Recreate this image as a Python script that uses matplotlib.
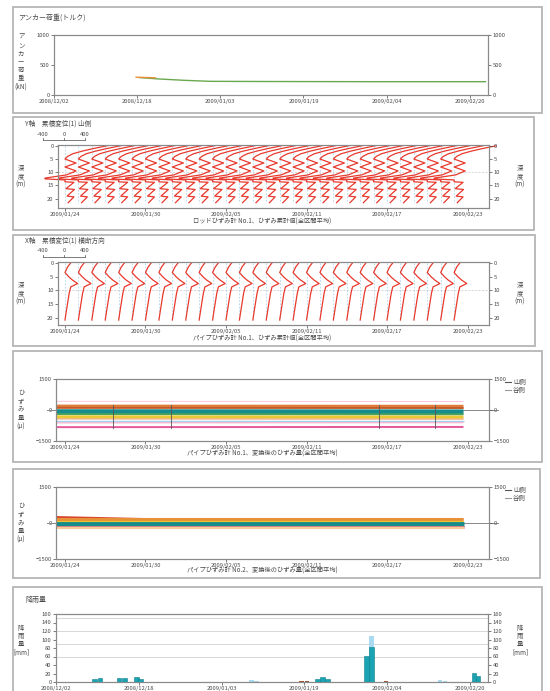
import matplotlib
matplotlib.use("Agg")
import matplotlib.pyplot as plt
from matplotlib.patches import Rectangle
from matplotlib.lines import Line2D

plt.rcParams['font.family'] = ['Noto Sans CJK JP', 'DejaVu Sans']

# ---------------------------------------------------------------- data
long_tick_days = [0, 16, 32, 48, 64, 80]
long_tick_labels = ["2008/12/02", "2008/12/18", "2009/01/03",
                    "2009/01/19", "2009/02/04", "2009/02/20"]
short_tick_days = [0, 6, 12, 18, 24, 30]
short_tick_labels = ["2009/01/24", "2009/01/30", "2009/02/05",
                     "2009/02/11", "2009/02/17", "2009/02/23"]

# anchor load (kN)
anchor_days = [16.5, 20, 25, 30, 40, 60, 83]
anchor_load = [290, 268, 245, 228, 225, 222, 222]
anchor_days_b = [15.8, 17.5, 19.5]
anchor_load_b = [296, 292, 286]

# inclinometer profiles: one per day
profile_days = list(range(30))
depth_a = [0, 1, 2, 3, 4, 5, 6.5, 8, 9.5, 11, 12.2, 12.5, 12.9,
           13.6, 13.8, 16.2, 16.5, 19.0, 19.3, 21.5]
disp_a = [800, 550, 330, 150, 50, 0, 210, 0, 210, 30, -380, -380, 0,
          0, 170, 20, 180, 40, 170, 60]
depth_b = [0, 1.5, 3.5, 5, 6.2, 7.5, 8.7, 11, 14, 17, 20.7]
disp_b = [110, 50, 0, 70, 140, 240, 110, 80, 55, 30, 0]

# pipe strain gauge No.1 (micro strain), level of each gauge line
strain1_start = [420, 160, 110, -80, -200, -340, -430, -520, -620, -830]
strain1_end = [410, 150, 100, -90, -210, -350, -440, -520, -610, -820]
strain1_break_days = [3.6, 7.9, 23.4, 27.6]

# pipe strain gauge No.2
strain2_start = [250, 130, 60, -20, -60, -150, -220]
strain2_mid = [165, 135, 60, -20, -60, -150, -220]
strain2_end = [150, 135, 60, -20, -60, -150, -220]

# daily rainfall (mm)
rain_days = [7.5, 8.5, 12.2, 13.2, 15.5, 16.3, 50.5, 51.5, 52.5, 60, 61, 80.8, 81.6]
rain_mm = [8, 10, 10, 9, 12, 6, 6, 12, 8, 62, 83, 22, 14]
rain_light_days = [37.8, 38.8, 61, 74.2, 75.2]
rain_light_mm = [4, 3, 108, 4, 3]
rain_small_days = [47.5, 48.5, 63.8, 70.6]
rain_small_mm = [2, 2, 1.5, 1]

# ---------------------------------------------------------------- figure
W, H = 550, 691
fig = plt.figure(figsize=(W / 100, H / 100), dpi=100)

TXT = '#4a4a4a'
SP = '#8a8a8a'
FS = 4.2
RED = '#e8392d'


def add_ax(x0, y0, x1, y1):
    return fig.add_axes([x0 / W, 1 - y1 / H, (x1 - x0) / W, (y1 - y0) / H])


def style(ax):
    for s in ax.spines.values():
        s.set_color(SP)
        s.set_linewidth(0.8)
    ax.tick_params(labelsize=FS, colors=TXT, length=2, width=0.5, pad=1.2)


def ftext(x, y, s, **kw):
    kw.setdefault('fontsize', 5)
    kw.setdefault('color', TXT)
    fig.text(x / W, 1 - y / H, s, **kw)


def vlabel(x, y, chars):
    ftext(x, y, "\n".join(chars), ha='center', va='center',
          fontsize=4.6, linespacing=1.05)


def right_twin(ax, ticks, labels=None):
    r = ax.twinx()
    r.set_ylim(ax.get_ylim())
    r.set_yticks(ticks)
    if labels is not None:
        r.set_yticklabels(labels)
    style(r)
    return r


# panel frames
frames = [(13, 7, 542, 113), (13, 117, 534, 230), (13, 235, 535, 346),
          (13, 351, 542, 462), (13, 469, 540, 578), (13, 587, 542, 700)]
for x0, y0, x1, y1 in frames:
    fig.add_artist(Rectangle((x0 / W, 1 - y1 / H), (x1 - x0) / W, (y1 - y0) / H,
                             transform=fig.transFigure, fill=False,
                             ec='#b5b5b5', lw=1.3))

# ---------------------------------------------------------------- panel 1
ax1 = add_ax(54, 35, 488, 95)
ax1.set_xlim(0, 83.5)
ax1.set_ylim(0, 1000)
ax1.set_yticks([0, 500, 1000])
ax1.set_xticks(long_tick_days)
ax1.set_xticklabels(long_tick_labels)
style(ax1)
ax1.plot(anchor_days, anchor_load, color='#6aa84f', lw=1.0)
ax1.plot(anchor_days_b, anchor_load_b, color='#e69138', lw=1.0)
right_twin(ax1, [0, 500, 1000])
ftext(18, 18, "アンカー荷重(トルク)", fontsize=5, va='center')
vlabel(21, 62, ["ア", "ン", "カ", "ー", "荷", "重", "(kN)"])

# ---------------------------------------------------------------- panels 2 and 3
MM2DAY = (42 / 800) / 13.4


def profile_panel(y0, y1, depth, disp, ymax, title, caption, cap_y):
    ax = add_ax(58, y0, 489, y1)
    ax.set_xlim(-0.52, 31.6)
    ax.set_ylim(ymax, -0.3)
    ax.set_yticks([0, 5, 10, 15, 20])
    ax.set_xticks(short_tick_days)
    ax.set_xticklabels(short_tick_labels)
    style(ax)
    ax.axhline(10, color='#c8c8c8', lw=0.5, ls=(0, (3, 2)))
    for d in profile_days:
        ax.plot([d, d], [0, depth[-1]], color='#8ec5e8', lw=0.6,
                ls=(0, (2, 2)), alpha=0.7)
        xs = [d + v * MM2DAY for v in disp]
        ax.plot(xs, depth, color=RED, lw=0.9, clip_on=False)
    right_twin(ax, [0, 5, 10, 15, 20])
    # scale bar
    ftext(25, y0 - 21, title, fontsize=4.8, va='center')
    ftext(43, y0 - 11, "-400", fontsize=4.2, ha='center', va='center')
    ftext(64, y0 - 11, "0", fontsize=4.2, ha='center', va='center')
    ftext(85, y0 - 11, "400", fontsize=4.2, ha='center', va='center')
    yb = 1 - (y0 - 5) / H
    fig.add_artist(Line2D([43 / W, 85 / W], [yb, yb], transform=fig.transFigure,
                          color='#666666', lw=0.6))
    for xb in (43, 64, 85):
        fig.add_artist(Line2D([xb / W, xb / W], [yb, yb + 2 / H],
                              transform=fig.transFigure, color='#666666', lw=0.6))
    vlabel(21, (y0 + y1) / 2, ["深", "度", "(m)"])
    vlabel(520, (y0 + y1) / 2, ["深", "度", "(m)"])
    ftext(262, cap_y, caption, fontsize=4.5, ha='center', va='center')
    return ax


profile_panel(145, 208, depth_a, disp_a, 23.5, "Y軸　累積変位(1) 山側",
              "ロッドひずみ計 No.1、ひずみ累計値(全区間平均)", 222)
profile_panel(262, 325, depth_b, disp_b, 22.5, "X軸　累積変位(1) 横断方向",
              "パイプひずみ計 No.1、ひずみ累計値(全区間平均)", 339)

# ---------------------------------------------------------------- panels 4 and 5
strain1_colors = ['#f9c6dc', '#e07b39', '#c05a2c', '#168c8c', '#4aa35a',
                  '#eac834', '#f4b183', '#9fd3ec', '#f6b7d2', '#e6589a']
strain1_widths = [0.7, 3.0, 1.2, 3.5, 1.4, 2.4, 1.0, 1.0, 1.0, 1.4]
strain2_colors = ['#d9472b', '#e69138', '#f1c232', '#6aa84f', '#168c8c',
                  '#e47777', '#f9cb9c']
strain2_widths = [1.4, 2.6, 1.6, 1.2, 3.4, 2.0, 1.6]


def strain_axes(y0, y1):
    ax = add_ax(56, y0, 489, y1)
    ax.set_xlim(-0.67, 31.6)
    ax.set_ylim(-1500, 1500)
    ax.set_yticks([-1500, 0, 1500])
    ax.set_xticks(short_tick_days)
    ax.set_xticklabels(short_tick_labels)
    style(ax)
    ax.plot([-0.02, 1.02], [0, 0], transform=ax.get_yaxis_transform(),
            color='#888888', lw=0.7, clip_on=False)
    right_twin(ax, [-1500, 0, 1500])
    vlabel(21, (y0 + y1) / 2, ["ひ", "ず", "み", "量", "(μ)"])
    # legend
    for k, (lab, col) in enumerate([("山側", '#555555'), ("谷側", '#9a9a9a')]):
        yy = y0 + 3 + k * 8
        fig.add_artist(Line2D([505 / W, 511 / W], [1 - yy / H, 1 - yy / H],
                              transform=fig.transFigure, color=col, lw=0.8))
        ftext(513, yy, lab, fontsize=4.6, va='center')
    return ax


ax4 = strain_axes(379, 441)
for s, e, c, w in zip(strain1_start, strain1_end, strain1_colors, strain1_widths):
    ax4.plot([-0.67, 29.7], [s, e], color=c, lw=w, solid_capstyle='butt')
for d in strain1_break_days:
    ax4.plot([d, d], [-880, 220], color='#555555', lw=0.6)
ftext(262, 454, "パイプひずみ計 No.1、変換後のひずみ量(全区間平均)",
      fontsize=4.5, ha='center', va='center')

ax5 = strain_axes(487, 559)
for s, m, e, c, w in zip(strain2_start, strain2_mid, strain2_end,
                         strain2_colors, strain2_widths):
    ax5.plot([-0.67, 6, 29.7], [s, m, e], color=c, lw=w, solid_capstyle='butt')
ftext(262, 571, "パイプひずみ計 No.2、変換後のひずみ量(全区間平均)",
      fontsize=4.5, ha='center', va='center')

# ---------------------------------------------------------------- panel 6
ax6 = add_ax(56, 614, 488, 682)
ax6.set_xlim(0, 83.5)
ax6.set_ylim(0, 160)
ax6.set_yticks(range(0, 161, 20))
ax6.set_xticks(long_tick_days)
ax6.set_xticklabels(long_tick_labels)
style(ax6)
for g in (60, 90, 120, 150):
    ax6.axhline(g, color='#d0d0d0', lw=0.6, zorder=0)
ax6.bar(rain_light_days, rain_light_mm, width=0.9, color='#a9daf0', zorder=2)
ax6.bar(rain_small_days, rain_small_mm, width=0.9, color='#a0522d', zorder=2)
ax6.bar(rain_days, rain_mm, width=0.9, color='#1aa3b3', edgecolor='#0f7f8c',
        lw=0.4, zorder=3)
right_twin(ax6, list(range(0, 161, 20)))
ftext(25, 600, "降雨量", fontsize=5, va='center')
vlabel(21, 640, ["降", "雨", "量", "[mm]"])
vlabel(520, 640, ["降", "雨", "量", "[mm]"])

fig.savefig("out.png", dpi=100, facecolor='white')
